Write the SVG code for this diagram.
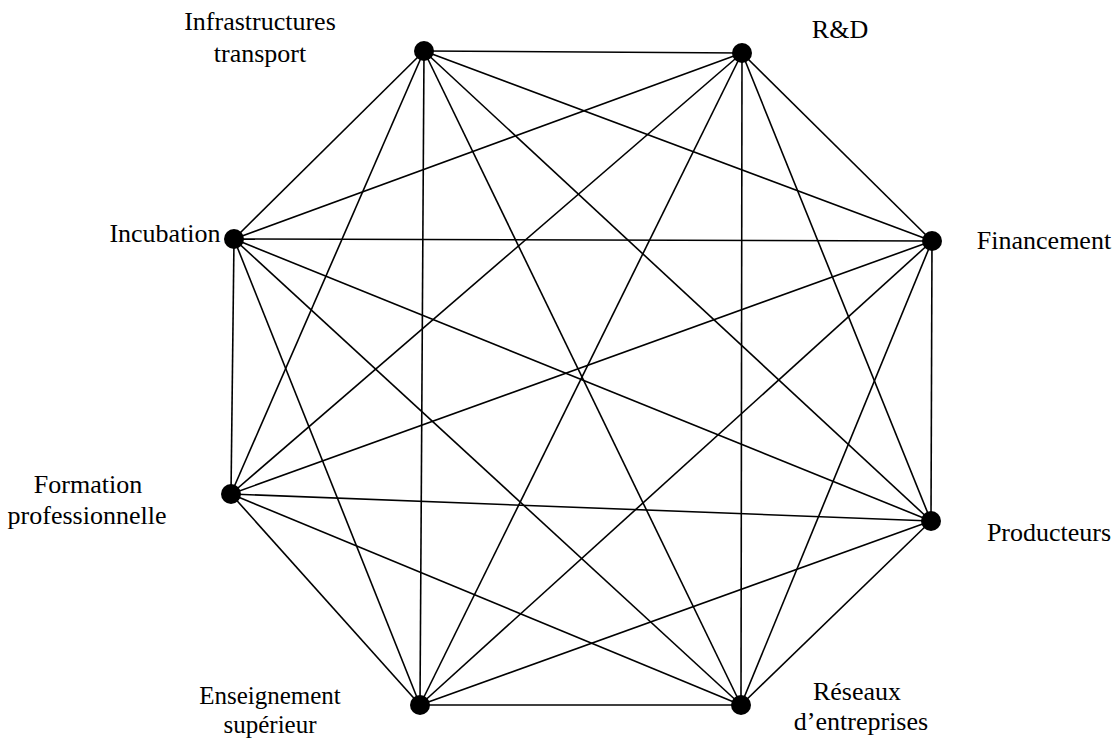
<svg xmlns="http://www.w3.org/2000/svg" width="1118" height="738" viewBox="0 0 1118 738">
<style>
.e{stroke:#000;stroke-width:1.6;fill:none}
.n{fill:#000}
.t{font-family:"Liberation Serif","Times New Roman",serif;font-size:26px;fill:#000;text-anchor:middle}
.s{font-size:25px}
</style>
<rect width="1118" height="738" fill="#fff"/>
<g id="connectors" class="e">
<line x1="424" y1="51" x2="742" y2="53"/>
<line x1="424" y1="51" x2="932" y2="241"/>
<line x1="424" y1="51" x2="931" y2="521"/>
<line x1="424" y1="51" x2="741" y2="705"/>
<line x1="424" y1="51" x2="420" y2="705"/>
<line x1="424" y1="51" x2="231" y2="494"/>
<line x1="424" y1="51" x2="234" y2="239"/>
<line x1="742" y1="53" x2="932" y2="241"/>
<line x1="742" y1="53" x2="931" y2="521"/>
<line x1="742" y1="53" x2="741" y2="705"/>
<line x1="742" y1="53" x2="420" y2="705"/>
<line x1="742" y1="53" x2="231" y2="494"/>
<line x1="742" y1="53" x2="234" y2="239"/>
<line x1="932" y1="241" x2="931" y2="521"/>
<line x1="932" y1="241" x2="741" y2="705"/>
<line x1="932" y1="241" x2="420" y2="705"/>
<line x1="932" y1="241" x2="231" y2="494"/>
<line x1="932" y1="241" x2="234" y2="239"/>
<line x1="931" y1="521" x2="741" y2="705"/>
<line x1="931" y1="521" x2="420" y2="705"/>
<line x1="931" y1="521" x2="231" y2="494"/>
<line x1="931" y1="521" x2="234" y2="239"/>
<line x1="741" y1="705" x2="420" y2="705"/>
<line x1="741" y1="705" x2="231" y2="494"/>
<line x1="741" y1="705" x2="234" y2="239"/>
<line x1="420" y1="705" x2="231" y2="494"/>
<line x1="420" y1="705" x2="234" y2="239"/>
<line x1="231" y1="494" x2="234" y2="239"/>
</g>
<g id="infra"><circle class="n" cx="424" cy="51" r="10"/><text class="t" x="260" y="30">Infrastructures</text><text class="t" x="260" y="62">transport</text></g>
<g id="rd"><circle class="n" cx="742" cy="53" r="10"/><text class="t" x="840" y="38">R&amp;D</text></g>
<g id="financement"><circle class="n" cx="932" cy="241" r="10"/><text class="t" x="1044" y="249">Financement</text></g>
<g id="producteurs"><circle class="n" cx="931" cy="521" r="10"/><text class="t" x="1049" y="541">Producteurs</text></g>
<g id="reseaux"><circle class="n" cx="741" cy="705" r="10"/><text class="t" x="857" y="700">Réseaux</text><text class="t" x="861" y="730">d’entreprises</text></g>
<g id="enseignement"><circle class="n" cx="420" cy="705" r="10"/><text class="t s" x="270" y="704">Enseignement</text><text class="t s" x="270" y="733">supérieur</text></g>
<g id="formation"><circle class="n" cx="231" cy="494" r="10"/><text class="t" x="88" y="493">Formation</text><text class="t" x="87" y="524">professionnelle</text></g>
<g id="incubation"><circle class="n" cx="234" cy="239" r="10"/><text class="t" x="165" y="242">Incubation</text></g>
</svg>
